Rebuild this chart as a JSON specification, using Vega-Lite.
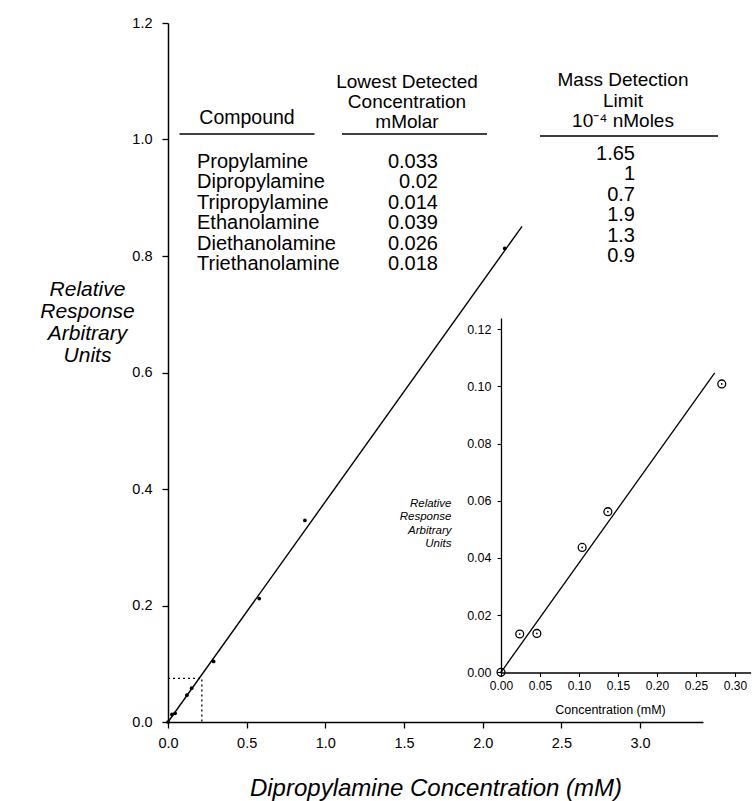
{
  "$schema": "https://vega.github.io/schema/vega-lite/v6.json",
  "autosize": {"type": "none"},
  "width": 535,
  "height": 699,
  "padding": {"left": 168, "top": 23, "right": 49, "bottom": 79},
  "background": "white",
  "config": {
    "view": {"stroke": null},
    "font": "Liberation Sans",
    "axis": {
      "grid": false,
      "domainColor": "black",
      "tickColor": "black",
      "labelColor": "black",
      "titleColor": "black",
      "labelFont": "Liberation Sans",
      "titleFont": "Liberation Sans",
      "titleFontWeight": "normal",
      "labelOverlap": false,
      "labelFlush": false
    },
    "text": {"font": "Liberation Sans", "color": "black"}
  },
  "datasets": {
    "mainPoints": [
      {"conc": 0, "resp": 0},
      {"conc": 0.025, "resp": 0.013},
      {"conc": 0.045, "resp": 0.015},
      {"conc": 0.12, "resp": 0.046},
      {"conc": 0.15, "resp": 0.058},
      {"conc": 0.29, "resp": 0.104},
      {"conc": 0.58, "resp": 0.212},
      {"conc": 0.87, "resp": 0.346},
      {"conc": 2.14, "resp": 0.813}
    ],
    "mainFit": [
      {"conc": 0, "resp": 0},
      {"conc": 2.25, "resp": 0.851}
    ],
    "box": [
      {"step": 1, "conc": 0, "resp": 0.075},
      {"step": 2, "conc": 0.215, "resp": 0.075},
      {"step": 3, "conc": 0.215, "resp": 0}
    ],
    "insetPoints": [
      {"conc": 0, "resp": 0},
      {"conc": 0.024, "resp": 0.0134},
      {"conc": 0.046, "resp": 0.0136},
      {"conc": 0.104, "resp": 0.0437},
      {"conc": 0.137, "resp": 0.0562},
      {"conc": 0.283, "resp": 0.1009}
    ],
    "insetFit": [
      {"conc": 0, "resp": 0},
      {"conc": 0.274, "resp": 0.1048}
    ],
    "table": [
      {"row": 1, "compound": "Propylamine", "lowest": "0.033", "mass": "1.65"},
      {"row": 2, "compound": "Dipropylamine", "lowest": "0.02", "mass": "1"},
      {"row": 3, "compound": "Tripropylamine", "lowest": "0.014", "mass": "0.7"},
      {"row": 4, "compound": "Ethanolamine", "lowest": "0.039", "mass": "1.9"},
      {"row": 5, "compound": "Diethanolamine", "lowest": "0.026", "mass": "1.3"},
      {"row": 6, "compound": "Triethanolamine", "lowest": "0.018", "mass": "0.9"}
    ],
    "headers": [
      {"col": "Compound", "label": "Compound"},
      {"col": "Lowest", "label": "Lowest Detected\nConcentration\nmMolar"},
      {"col": "Mass", "label": "Mass Detection\nLimit\n10⁻⁴ nMoles"}
    ]
  },
  "layer": [
    {
      "layer": [
        {
          "data": {"name": "mainFit"},
          "mark": {"type": "line", "color": "black", "strokeWidth": 1.4},
          "encoding": {
            "x": {
              "field": "conc", "type": "quantitative",
              "scale": {"domain": [0, 3.4], "nice": false, "zero": false},
              "axis": {
                "orient": "bottom",
                "values": [0, 0.5, 1, 1.5, 2, 2.5, 3],
                "format": ".1f",
                "labelFontSize": 14.5,
                "labelColor": "black",
                "tickSize": 6,
                "tickWidth": 1.3,
                "domainWidth": 1.5,
                "labelPadding": 8,
                "title": "Dipropylamine Concentration (mM)",
                "titleFontSize": 24,
                "titleFontStyle": "italic",
                "titleBaseline": "middle",
                "titleY": 66
              }
            },
            "y": {
              "field": "resp", "type": "quantitative",
              "scale": {"domain": [0, 1.2], "nice": false, "zero": false},
              "axis": {
                "orient": "left",
                "values": [0, 0.2, 0.4, 0.6, 0.8, 1.0, 1.2],
                "format": ".1f",
                "labelFontSize": 14.5,
                "labelColor": "black",
                "tickSize": 6,
                "tickWidth": 1.3,
                "domainWidth": 1.5,
                "labelPadding": 10,
                "title": ["Relative", "Response", "Arbitrary", "Units"],
                "titleAngle": 0,
                "titleAlign": "center",
                "titleBaseline": "middle",
                "titleFontSize": 21,
                "titleFontStyle": "italic",
                "titleLineHeight": 22,
                "titleX": -81,
                "titleY": 266
              }
            }
          }
        },
        {
          "data": {"name": "box"},
          "mark": {"type": "line", "color": "black", "strokeWidth": 1.3, "strokeDash": [2, 3]},
          "encoding": {
            "x": {"field": "conc", "type": "quantitative"},
            "y": {"field": "resp", "type": "quantitative"},
            "order": {"field": "step", "type": "quantitative"}
          }
        },
        {
          "data": {"name": "mainPoints"},
          "mark": {"type": "circle", "color": "black", "size": 14, "opacity": 1},
          "encoding": {
            "x": {"field": "conc", "type": "quantitative"},
            "y": {"field": "resp", "type": "quantitative"}
          }
        }
      ]
    },
    {
      "layer": [
        {
          "data": {"name": "insetFit"},
          "mark": {"type": "line", "color": "black", "strokeWidth": 1.3},
          "encoding": {
            "x": {
              "field": "conc", "type": "quantitative",
              "scale": {"domain": [0, 0.32], "range": [333, 582.6], "nice": false, "zero": false},
              "axis": {
                "orient": "bottom",
                "offset": -49.5,
                "values": [0, 0.05, 0.1, 0.15, 0.2, 0.25, 0.3],
                "format": ".2f",
                "labelFontSize": 12,
                "labelColor": "black",
                "tickSize": 4,
                "tickWidth": 1.1,
                "domainWidth": 1.3,
                "labelPadding": 4,
                "title": "Concentration (mM)",
                "titleFontSize": 12.5,
                "titleBaseline": "middle",
                "titleX": 442,
                "titleY": 37
              }
            },
            "y": {
              "field": "resp", "type": "quantitative",
              "scale": {"domain": [0, 0.124], "range": [649.3, 294.9], "nice": false, "zero": false},
              "axis": {
                "orient": "left",
                "offset": -333,
                "values": [0, 0.02, 0.04, 0.06, 0.08, 0.1, 0.12],
                "format": ".2f",
                "labelFontSize": 12.5,
                "labelColor": "black",
                "tickSize": 4,
                "tickWidth": 1.1,
                "domainWidth": 1.3,
                "labelPadding": 6,
                "title": ["Relative", "Response", "Arbitrary", "Units"],
                "titleAngle": 0,
                "titleAlign": "right",
                "titleBaseline": "middle",
                "titleFontSize": 11.5,
                "titleFontStyle": "italic",
                "titleLineHeight": 13.5,
                "titleX": -50,
                "titleY": 480
              }
            }
          }
        },
        {
          "data": {"name": "insetPoints"},
          "mark": {"type": "point", "shape": "circle", "filled": false, "color": "black", "size": 62, "strokeWidth": 1.3, "opacity": 1},
          "encoding": {
            "x": {"field": "conc", "type": "quantitative"},
            "y": {"field": "resp", "type": "quantitative"}
          }
        },
        {
          "data": {"name": "insetPoints"},
          "mark": {"type": "circle", "color": "black", "size": 3, "opacity": 1},
          "encoding": {
            "x": {"field": "conc", "type": "quantitative"},
            "y": {"field": "resp", "type": "quantitative"}
          }
        }
      ]
    },
    {
      "layer": [
        {
          "data": {"name": "table"},
          "mark": {"type": "text", "align": "left", "baseline": "middle", "fontSize": 20, "dx": -50},
          "encoding": {
            "x": {
              "datum": "Compound", "type": "nominal",
              "scale": {"type": "point", "domain": ["Compound", "Lowest", "Mass"], "range": [79, 455], "padding": 0},
              "axis": null
            },
            "y": {
              "field": "row", "type": "quantitative",
              "scale": {"domain": [0, 6], "range": [118.6, 241], "nice": false, "zero": false},
              "axis": null
            },
            "text": {"field": "compound", "type": "nominal"}
          }
        },
        {
          "data": {"name": "table"},
          "mark": {"type": "text", "align": "right", "baseline": "middle", "fontSize": 20, "dx": 3},
          "encoding": {
            "x": {"datum": "Lowest", "type": "nominal"},
            "y": {"field": "row", "type": "quantitative"},
            "text": {"field": "lowest", "type": "nominal"}
          }
        },
        {
          "data": {"name": "table"},
          "mark": {"type": "text", "align": "right", "baseline": "middle", "fontSize": 20, "dx": 12, "dy": -8},
          "encoding": {
            "x": {"datum": "Mass", "type": "nominal"},
            "y": {"field": "row", "type": "quantitative"},
            "text": {"field": "mass", "type": "nominal"}
          }
        },
        {
          "data": {"name": "headers"},
          "transform": [{"filter": "datum.col === 'Compound'"}],
          "mark": {"type": "text", "align": "center", "baseline": "middle", "fontSize": 19.5, "lineBreak": "\n", "lineHeight": 20, "dy": -23.6},
          "encoding": {
            "x": {"field": "col", "type": "nominal"},
            "y": {"datum": 0, "type": "quantitative"},
            "text": {"field": "label", "type": "nominal"}
          }
        },
        {
          "data": {"name": "headers"},
          "transform": [{"filter": "datum.col === 'Lowest'"}],
          "mark": {"type": "text", "align": "center", "baseline": "middle", "fontSize": 19, "lineBreak": "\n", "lineHeight": 20, "dx": -28, "dy": -60},
          "encoding": {
            "x": {"field": "col", "type": "nominal"},
            "y": {"datum": 0, "type": "quantitative"},
            "text": {"field": "label", "type": "nominal"}
          }
        },
        {
          "data": {"name": "headers"},
          "transform": [{"filter": "datum.col === 'Mass'"}],
          "mark": {"type": "text", "align": "center", "baseline": "middle", "fontSize": 19, "lineBreak": "\n", "lineHeight": 20.5, "dy": -61.6},
          "encoding": {
            "x": {"field": "col", "type": "nominal"},
            "y": {"datum": 0, "type": "quantitative"},
            "text": {"field": "label", "type": "nominal"}
          }
        },
        {
          "data": {"name": "headers"},
          "transform": [{"filter": "datum.col === 'Compound'"}],
          "mark": {"type": "tick", "orient": "horizontal", "color": "black", "size": 135, "thickness": 1.3, "yOffset": -7.6, "opacity": 1},
          "encoding": {
            "x": {"field": "col", "type": "nominal"},
            "y": {"datum": 0, "type": "quantitative"}
          }
        },
        {
          "data": {"name": "headers"},
          "transform": [{"filter": "datum.col === 'Lowest'"}],
          "mark": {"type": "tick", "orient": "horizontal", "color": "black", "size": 145, "thickness": 1.3, "xOffset": -20.5, "yOffset": -7.6, "opacity": 1},
          "encoding": {
            "x": {"field": "col", "type": "nominal"},
            "y": {"datum": 0, "type": "quantitative"}
          }
        },
        {
          "data": {"name": "headers"},
          "transform": [{"filter": "datum.col === 'Mass'"}],
          "mark": {"type": "tick", "orient": "horizontal", "color": "black", "size": 178, "thickness": 1.3, "xOffset": 6, "yOffset": -5.6, "opacity": 1},
          "encoding": {
            "x": {"field": "col", "type": "nominal"},
            "y": {"datum": 0, "type": "quantitative"}
          }
        }
      ]
    }
  ],
  "resolve": {
    "scale": {"x": "independent", "y": "independent"},
    "axis": {"x": "independent", "y": "independent"}
  }
}
